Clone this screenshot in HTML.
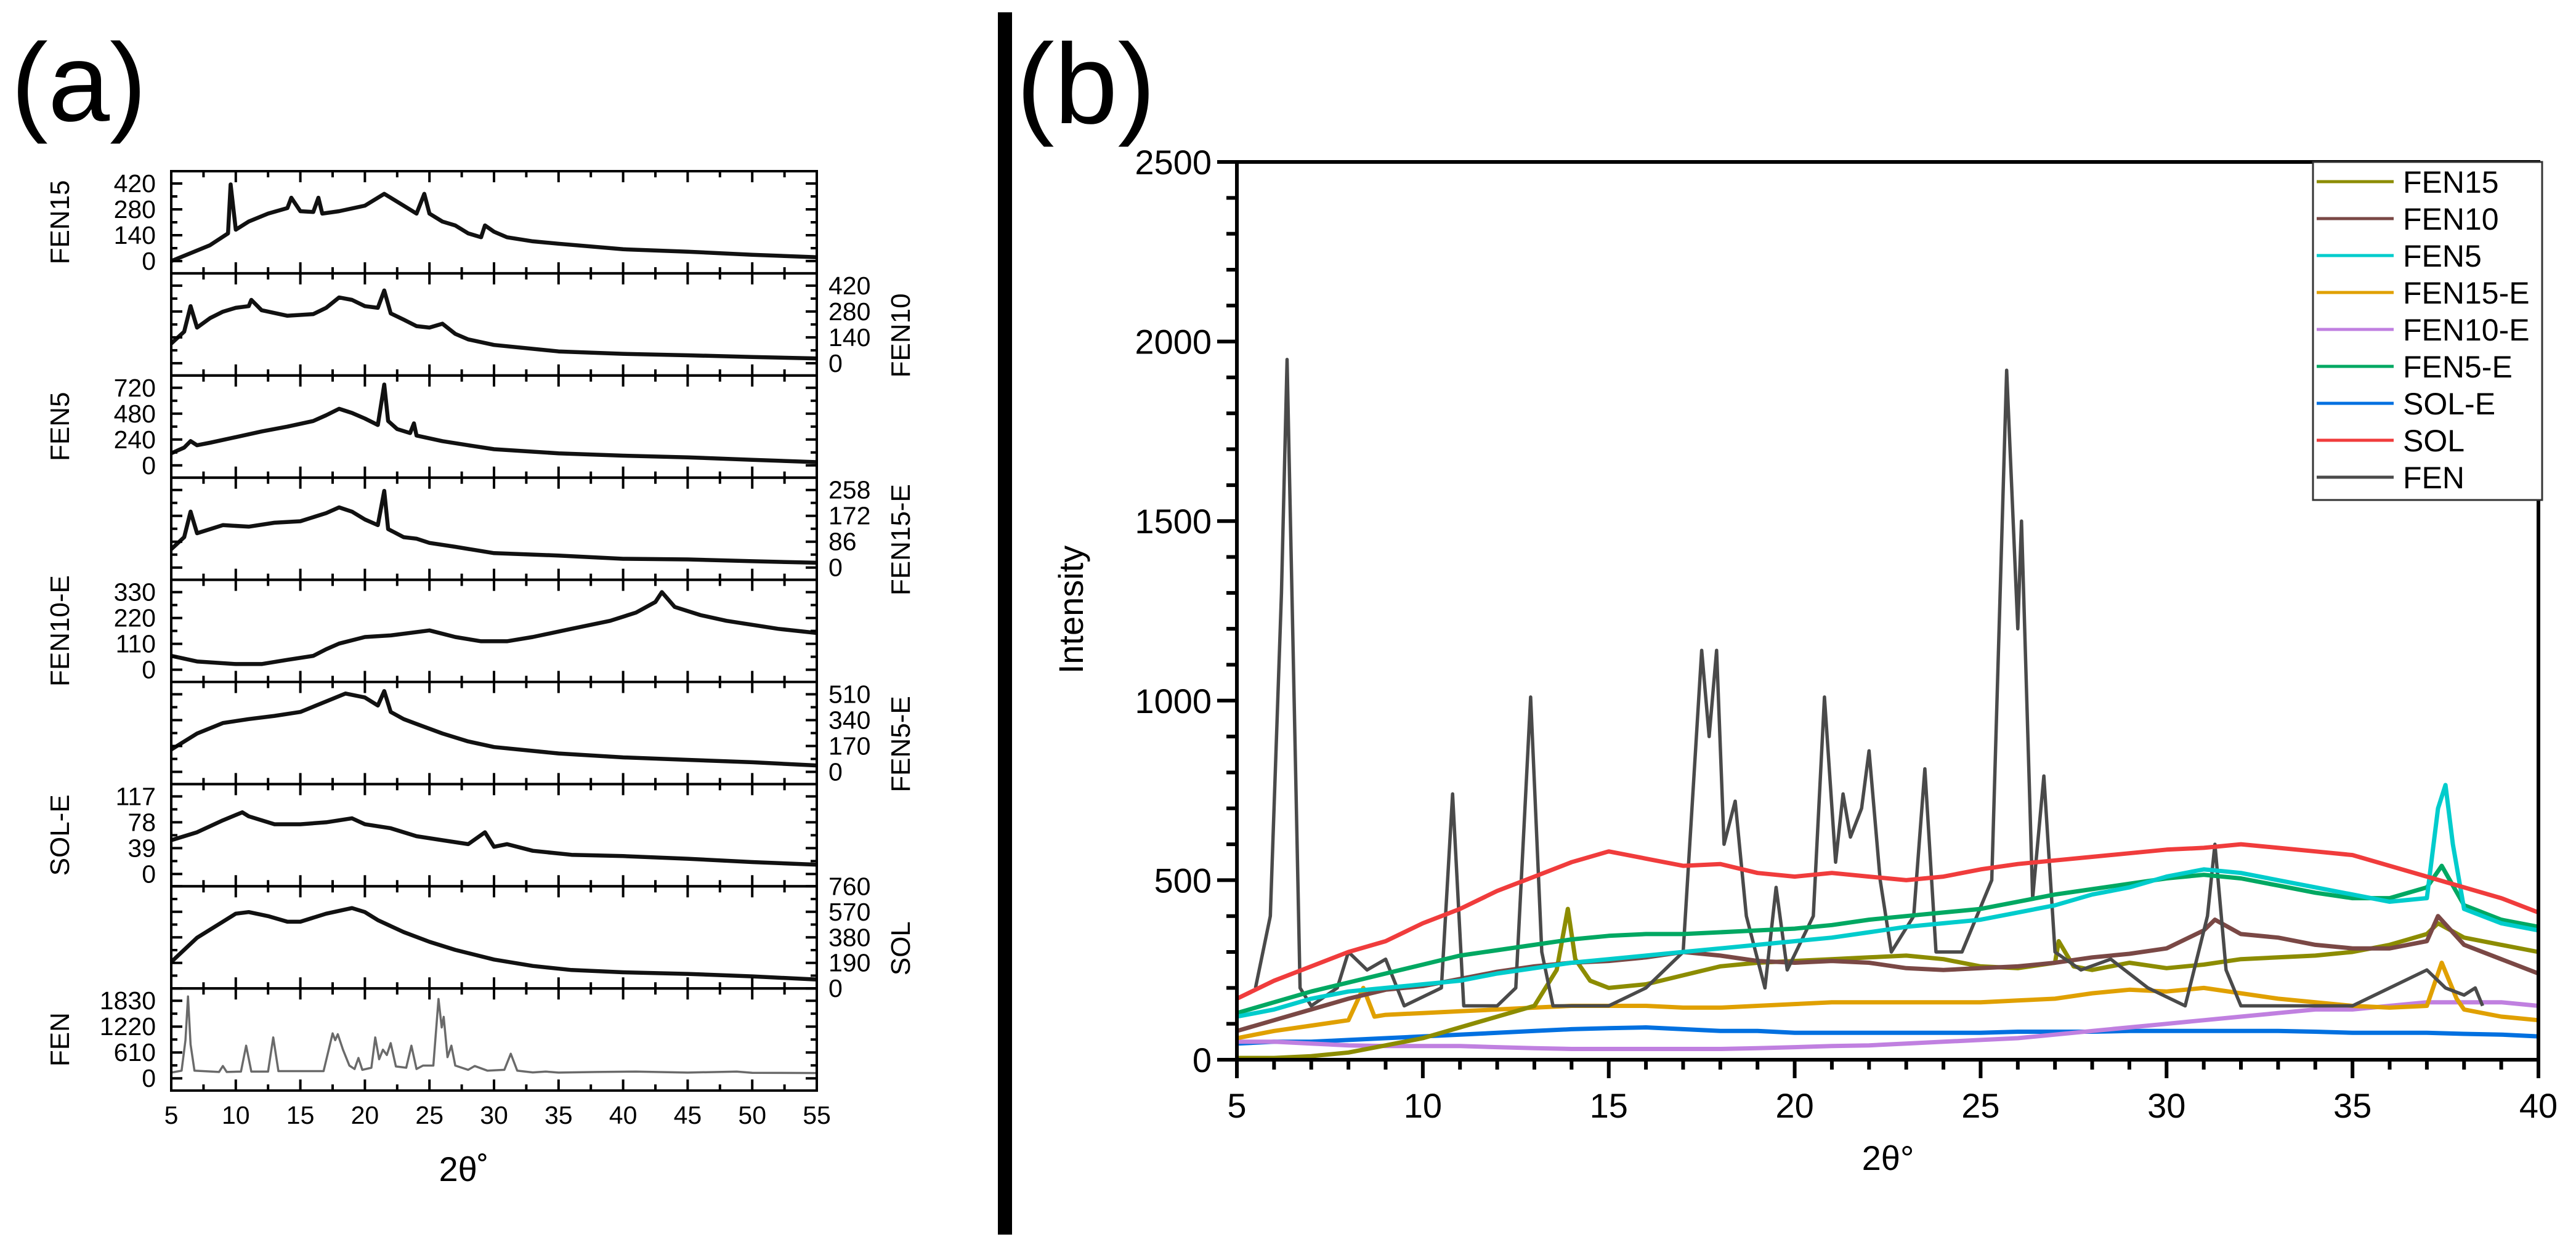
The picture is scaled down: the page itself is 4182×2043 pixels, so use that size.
<!DOCTYPE html>
<html><head><meta charset="utf-8"><style>
html,body{margin:0;padding:0;background:#fff;}
svg{display:block;font-family:"Liberation Sans",sans-serif;}
</style></head><body>
<svg id="fig" width="4182" height="2043" viewBox="0 0 4182 2043" xmlns="http://www.w3.org/2000/svg">
<rect width="4182" height="2043" fill="#fff"/>
<text x="18" y="196" font-size="180">(a)</text>
<text x="1650" y="200" font-size="185">(b)</text>
<rect x="1620" y="20" width="23" height="1985" fill="#000"/>
<g id="pa"></g>
<g id="pb"></g>
</svg>
<script>
// ---------- Panel (a) data ----------
const aNames = ["FEN15","FEN10","FEN5","FEN15-E","FEN10-E","FEN5-E","SOL-E","SOL","FEN"];
const aSide = ["L","R","L","R","L","R","L","R","L"];
const aTicks = [[0,140,280,420],[0,140,280,420],[0,240,480,720],[0,86,172,258],[0,110,220,330],[0,170,340,510],[0,39,78,117],[0,190,380,570,760],[0,610,1220,1830]];
const aXTicks = [5,10,15,20,25,30,35,40,45,50,55];
const aFEN15 = [[5,0],[8,86],[9.4,150],[9.6,415],[10,170],[11,214],[12.5,257],[14,287],[14.3,343],[15,270],[16,266],[16.4,343],[16.7,257],[18,270],[20,300],[21.5,364],[22,343],[23,300],[24,257],[24.6,364],[25,257],[26,214],[27,193],[28,150],[29,129],[29.3,193],[30,159],[31,129],[33,107],[35,94],[40,64],[45,51],[50,34],[55,21]];
const aFEN10 = [[5,107],[6,171],[6.5,309],[7,193],[8,244],[9,279],[10,300],[11,309],[11.2,343],[12,287],[14,257],[16,266],[17,300],[18,356],[19,343],[20,309],[21,300],[21.5,394],[22,270],[23,236],[24,201],[25,193],[26,214],[27,159],[28,129],[30,99],[35,64],[40,51],[45,43],[50,34],[55,26]];
const aFEN5 = [[5,112],[6,165],[6.5,225],[7,187],[8,210],[10,262],[12,315],[14,360],[16,412],[17,465],[18,525],[19,487],[20,435],[21,375],[21.5,750],[21.8,412],[22.5,337],[23.5,300],[23.8,390],[24,277],[26,225],[28,187],[30,150],[35,112],[40,90],[45,75],[50,52],[55,30]];
const aFEN15E = [[5,61],[6,101],[6.5,186],[7,114],[9,141],[11,136],[13,149],[15,154],[17,181],[18,200],[19,186],[20,160],[21,141],[21.5,255],[21.8,128],[23,101],[24,96],[25,82],[27,69],[30,48],[35,40],[40,29],[45,27],[50,21],[55,16]];
const aFEN10E = [[5,59],[7,35],[10,24],[12,24],[14,42],[16,59],[17,87],[18,111],[20,139],[22,146],[25,167],[27,139],[29,121],[31,121],[33,139],[36,174],[39,208],[41,243],[42.5,288],[43,330],[44,267],[46,232],[48,208],[50,191],[52,174],[55,156]];
const aFEN5E = [[5,147],[7,252],[9,321],[11,347],[13,368],[15,394],[17,463],[18.5,515],[20,489],[21,436],[21.5,531],[22,394],[23,347],[24,315],[26,252],[28,200],[30,163],[35,121],[40,95],[45,79],[50,63],[55,42]];
const aSOLE = [[5,51],[7,63],[9,81],[10.5,93],[11,87],[13,75],[15,75],[17,78],[19,84],[20,75],[22,69],[24,57],[26,51],[28,45],[29.3,63],[30,41],[31,45],[33,35],[36,29],[40,27],[45,23],[50,18],[55,14]];
const aSOL = [[5,197],[7,377],[9,496],[10,556],[11,568],[12.5,538],[14,496],[15,496],[17,556],[19,598],[20,568],[21,508],[23,419],[25,347],[27,287],[30,215],[33,167],[36,137],[40,120],[45,108],[50,90],[55,66]];
const aFEN = [[5,135],[5.8,180],[6.1,900],[6.3,1930],[6.5,800],[6.8,180],[8.7,150],[9,290],[9.3,150],[10.4,160],[10.8,770],[11.2,160],[12.5,160],[12.9,965],[13.3,170],[16.8,170],[17.5,1060],[17.7,900],[17.9,1040],[18.3,675],[18.8,300],[19.2,220],[19.5,480],[19.8,200],[20.5,250],[20.8,965],[21.1,450],[21.4,675],[21.7,550],[22,830],[22.4,280],[23.2,250],[23.6,770],[24,220],[24.5,300],[25.3,300],[25.7,1870],[25.95,1200],[26.1,1450],[26.4,500],[26.7,770],[27,300],[28,200],[28.5,290],[29.5,180],[30.8,200],[31.3,580],[31.8,180],[33,140],[34,160],[35,135],[38,150],[41,160],[45,135],[48.8,160],[50,130],[55,125]];
const aSeries = [aFEN15,aFEN10,aFEN5,aFEN15E,aFEN10E,aFEN5E,aSOLE,aSOL,aFEN];

// ---------- Panel (b) data ----------
const bNames = ["FEN15","FEN10","FEN5","FEN15-E","FEN10-E","FEN5-E","SOL-E","SOL","FEN"];
const bColors = ["#8c8c00","#7a4845","#00cccc","#e0a000","#c080e0","#00a862","#0070e0","#f03c3c","#4a4a4a"];
const bXTicks = [5,10,15,20,25,30,35,40];
const bYTicks = [0,500,1000,1500,2000,2500];
const bFEN15 = [[5,5],[6,5],[7,10],[8,20],[9,40],[10,60],[11,90],[12,120],[13,150],[13.6,250],[13.9,420],[14.1,280],[14.5,220],[15,200],[16,210],[17,235],[18,260],[19,270],[20,275],[21,280],[22,285],[23,290],[24,280],[25,260],[26,255],[27,270],[27.1,330],[27.5,260],[28,250],[29,270],[30,255],[31,265],[32,280],[33,285],[34,290],[35,300],[36,320],[37,350],[37.3,380],[38,340],[39,320],[40,300]];
const bFEN10 = [[5,80],[6,110],[7,140],[8,170],[9,195],[10,205],[11,225],[12,245],[13,260],[14,270],[15,275],[16,285],[17,300],[18,290],[19,275],[20,270],[21,275],[22,270],[23,255],[24,250],[25,255],[26,260],[27,270],[28,285],[29,295],[30,310],[31,360],[31.3,390],[32,350],[33,340],[34,320],[35,310],[36,310],[37,330],[37.3,400],[38,320],[39,280],[40,240]];
const bFEN5 = [[5,120],[6,140],[7,170],[8,190],[9,200],[10,210],[11,220],[12,240],[13,255],[14,270],[15,280],[16,290],[17,300],[18,310],[19,320],[20,330],[21,340],[22,355],[23,370],[24,380],[25,390],[26,410],[27,430],[28,460],[29,480],[30,510],[31,530],[32,520],[33,500],[34,480],[35,460],[36,440],[37,450],[37.3,700],[37.5,765],[37.7,600],[38,420],[39,380],[40,360]];
const bFEN15E = [[5,60],[6,80],[7,95],[8,110],[8.4,200],[8.7,120],[9,125],[10,130],[11,135],[12,140],[13,145],[14,150],[15,150],[16,150],[17,145],[18,145],[19,150],[20,155],[21,160],[22,160],[23,160],[24,160],[25,160],[26,165],[27,170],[28,185],[29,195],[30,190],[31,200],[32,185],[33,170],[34,160],[35,150],[36,145],[37,150],[37.4,270],[37.8,170],[38,140],[39,120],[40,110]];
const bFEN10E = [[5,50],[6,50],[7,45],[8,40],[9,38],[10,38],[11,38],[12,35],[13,32],[14,30],[15,30],[16,30],[17,30],[18,30],[19,32],[20,35],[21,38],[22,40],[23,45],[24,50],[25,55],[26,60],[27,70],[28,80],[29,90],[30,100],[31,110],[32,120],[33,130],[34,140],[35,140],[36,150],[37,160],[38,160],[39,160],[40,150]];
const bFEN5E = [[5,130],[6,160],[7,190],[8,215],[9,240],[10,265],[11,290],[12,305],[13,320],[14,335],[15,345],[16,350],[17,350],[18,355],[19,360],[20,365],[21,375],[22,390],[23,400],[24,410],[25,420],[26,440],[27,460],[28,475],[29,490],[30,505],[31,515],[32,505],[33,485],[34,465],[35,450],[36,450],[37,480],[37.4,540],[38,430],[39,390],[40,370]];
const bSOLE = [[5,45],[6,50],[7,50],[8,55],[9,60],[10,65],[11,70],[12,75],[13,80],[14,85],[15,88],[16,90],[17,85],[18,80],[19,80],[20,75],[21,75],[22,75],[23,75],[24,75],[25,75],[26,78],[27,78],[28,78],[29,80],[30,80],[31,80],[32,80],[33,80],[34,78],[35,75],[36,75],[37,75],[38,72],[39,70],[40,65]];
const bSOL = [[5,170],[6,220],[7,260],[8,300],[9,330],[10,380],[11,420],[12,470],[13,510],[14,550],[15,580],[16,560],[17,540],[18,545],[19,520],[20,510],[21,520],[22,510],[23,500],[24,510],[25,530],[26,545],[27,555],[28,565],[29,575],[30,585],[31,590],[32,600],[33,590],[34,580],[35,570],[36,540],[37,510],[38,480],[39,450],[40,410]];
const bFEN = [[5.5,200],[5.9,400],[6.2,1300],[6.35,1950],[6.5,1200],[6.7,200],[7,150],[7.7,200],[8,300],[8.5,250],[9,280],[9.5,150],[10.5,200],[10.8,740],[11.1,150],[12,150],[12.5,200],[12.9,1010],[13.2,300],[13.5,150],[15,150],[16,200],[17,300],[17.5,1140],[17.7,900],[17.9,1140],[18.1,600],[18.4,720],[18.7,400],[19.2,200],[19.5,480],[19.8,250],[20.5,400],[20.8,1010],[21.1,550],[21.3,740],[21.5,620],[21.8,700],[22,860],[22.3,500],[22.6,300],[23.2,400],[23.5,810],[23.8,300],[24.5,300],[25.3,500],[25.7,1920],[26,1200],[26.1,1500],[26.4,450],[26.7,790],[27,300],[27.7,250],[28.5,280],[29.5,200],[30.5,150],[31.1,400],[31.3,600],[31.6,250],[32,150],[33,150],[35,150],[36,200],[37,250],[37.5,200],[38,180],[38.3,200],[38.5,150]];
const bSeries = [bFEN15,bFEN10,bFEN5,bFEN15E,bFEN10E,bFEN5E,bSOLE,bSOL,bFEN];
const bOrder = [6,4,3,0,1,8,5,2,7];

const NS = "http://www.w3.org/2000/svg";
function mk(parent, tag, attrs, text){
  const e = document.createElementNS(NS, tag);
  for (const k in attrs) e.setAttribute(k, attrs[k]);
  if (text !== undefined) e.textContent = text;
  parent.appendChild(e);
  return e;
}

// ---------- draw panel (a) ----------
const pa = document.getElementById('pa');
const AL = 278, AR = 1326, AT = 278, AH = 165.9;
const ax = d => AL + (d - 5) / 50 * (AR - AL);
aNames.forEach((name, i) => {
  const top = AT + i * AH, bot = top + AH;
  const tv = aTicks[i];
  const tmax = tv[tv.length - 1];
  const isSOL = name === "SOL";
  const zeroY = isSOL ? bot : top + 146;
  const topY = isSOL ? top : top + 20;
  const ay = v => zeroY - v / tmax * (zeroY - topY);
  const g = mk(pa, 'g', {});
  
  
  const pts = aSeries[i].map(p => ax(p[0]).toFixed(1) + ',' + ay(p[1]).toFixed(1)).join(' ');
  const ln = mk(g, 'polyline', {points: pts, fill: 'none', stroke: name === "FEN" ? '#6a6a6a' : '#111', 'stroke-width': name === "FEN" ? 3.5 : 6.5, 'stroke-linejoin': 'round'});
  
  
  const fr = mk(g, 'rect', {x: AL, y: top, width: AR - AL, height: AH, fill: 'none', stroke: '#000', 'stroke-width': 4});
  
  
  for (let d = 5; d <= 55; d += 2.5) {
    const x = ax(d), L = (d % 5 === 0) ? 18 : 10;
    mk(g, 'line', {x1: x, y1: top, x2: x, y2: top + L, stroke: '#000', 'stroke-width': 4});
    mk(g, 'line', {x1: x, y1: bot, x2: x, y2: bot - L, stroke: '#000', 'stroke-width': 4});
  }
  const step = tv[1] - tv[0];
  for (let v = 0; v <= tmax + 1e-6; v += step / 2) {
    const y = ay(v);
    if (y < top - 1 || y > bot + 1) continue;
    const major = Math.abs((v / step) - Math.round(v / step)) < 1e-6;
    const L = major ? 18 : 10;
    mk(g, 'line', {x1: AL, y1: y, x2: AL + L, y2: y, stroke: '#000', 'stroke-width': 4});
    mk(g, 'line', {x1: AR, y1: y, x2: AR - L, y2: y, stroke: '#000', 'stroke-width': 4});
  }
  const left = aSide[i] === "L";
  tv.forEach(v => {
    const t = mk(g, 'text', {x: left ? 253 : 1345, y: ay(v) + 14, 'font-size': 41, 'text-anchor': left ? 'end' : 'start'}, String(v));
    
    
  });
  const lx = left ? 97 : 1462, ly = top + AH / 2 + (left ? 0 : 18);
  const pl = mk(g, 'text', {x: lx, y: ly, 'font-size': 44, 'text-anchor': 'middle', transform: `rotate(-90 ${lx} ${ly})`, dy: 15}, name);
  
  
});
aXTicks.forEach(d => {
  const t = mk(pa, 'text', {x: ax(d), y: AT + 9 * AH + 54, 'font-size': 41, 'text-anchor': 'middle'}, String(d));
  
  
});
const axt = mk(pa, 'text', {x: 753, y: 1918, 'font-size': 56, 'text-anchor': 'middle'}, '2θ˚');



// ---------- draw panel (b) ----------
const pb = document.getElementById('pb');
const BL = 2008, BR = 4121, BT = 263, BB = 1721;
const bx = d => BL + (d - 5) / 35 * (BR - BL);
const by = v => BB - v / 2500 * (BB - BT);
bOrder.forEach(i => {
  const pts = bSeries[i].map(p => bx(p[0]).toFixed(1) + ',' + by(p[1]).toFixed(1)).join(' ');
  const ln = mk(pb, 'polyline', {points: pts, fill: 'none', stroke: bColors[i], 'stroke-width': i === 8 ? 5.5 : 7, 'stroke-linejoin': 'round'});
  
  
});
const bf = mk(pb, 'rect', {x: BL, y: BT, width: BR - BL, height: BB - BT, fill: 'none', stroke: '#000', 'stroke-width': 6});


for (let v = 0; v <= 2500; v += 100) {
  const L = v % 500 === 0 ? 32 : 17;
  mk(pb, 'line', {x1: BL - L, y1: by(v), x2: BL, y2: by(v), stroke: '#000', 'stroke-width': 6});
}
for (let d = 5; d <= 40; d += 1) {
  const L = d % 5 === 0 ? 30 : 16;
  mk(pb, 'line', {x1: bx(d), y1: BB, x2: bx(d), y2: BB + L, stroke: '#000', 'stroke-width': 6});
}
bYTicks.forEach(v => {
  const t = mk(pb, 'text', {x: 1967, y: by(v) + 20, 'font-size': 56, 'text-anchor': 'end'}, String(v));
  
  
});
bXTicks.forEach(d => {
  const t = mk(pb, 'text', {x: bx(d), y: 1815, 'font-size': 56, 'text-anchor': 'middle'}, String(d));
  
  
});
const byt = mk(pb, 'text', {x: 1740, y: 990, 'font-size': 56, 'text-anchor': 'middle', transform: 'rotate(-90 1740 990)', dy: 18}, 'Intensity');


const bxt = mk(pb, 'text', {x: 3065, y: 1900, 'font-size': 56, 'text-anchor': 'middle'}, '2θ°');


const lg = mk(pb, 'g', {});


mk(lg, 'rect', {x: 3755, y: 263, width: 372, height: 549, fill: '#fff', stroke: '#333', 'stroke-width': 3});
bNames.forEach((n, i) => {
  const y = 295 + i * 60;
  const e = mk(lg, 'g', {});
  
  
  mk(e, 'line', {x1: 3761, y1: y, x2: 3886, y2: y, stroke: bColors[i], 'stroke-width': 5});
  mk(e, 'text', {x: 3901, y: y + 18, 'font-size': 50}, n);
});
</script>
</body></html>
